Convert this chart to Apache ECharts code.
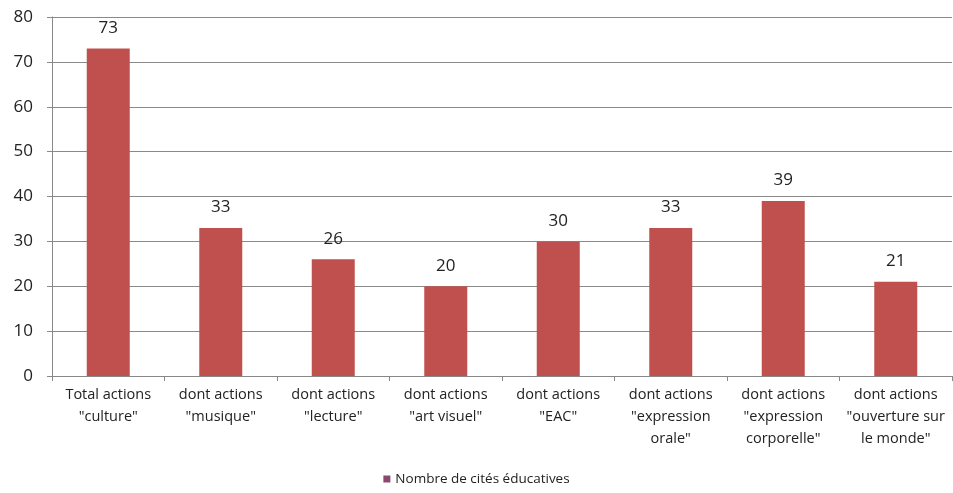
<!DOCTYPE html>
<html>
<head>
<meta charset="utf-8">
<script src="https://cdn.jsdelivr.net/npm/echarts@6/dist/echarts.min.js"></script>
<style>
  html, body { margin: 0; padding: 0; background: #fff; }
  #chart { width: 953px; height: 493px; }
</style>
</head>
<body>
<div id="chart"></div>
<script>
const categories = [
  'Total actions\n"culture"',
  'dont actions\n"musique"',
  'dont actions\n"lecture"',
  'dont actions\n"art visuel"',
  'dont actions\n"EAC"',
  'dont actions\n"expression\norale"',
  'dont actions\n"expression\ncorporelle"',
  'dont actions\n"ouverture sur\nle monde"'
];
const values = [73, 33, 26, 20, 30, 33, 39, 21];
const seriesName = 'Nombre de cités éducatives';

const chart = echarts.init(document.getElementById('chart'));

chart.setOption({
  backgroundColor: '#fff',
  textStyle: { fontFamily: 'Open Sans' },
  grid: { left: 52, right: 1, top: 17, bottom: 117 },
  legend: {
    bottom: 2,
    left: 'center',
    itemWidth: 7,
    itemHeight: 7,
    icon: 'rect',
    textStyle: { fontSize: 13.5, color: '#222' },
    data: [{ name: seriesName, itemStyle: { color: '#8a4a6e' } }]
  },
  xAxis: {
    type: 'category',
    data: categories,
    axisLine: { lineStyle: { color: '#888' } },
    axisTick: { show: true, length: 5, lineStyle: { color: '#888' } },
    axisLabel: { color: '#222', fontSize: 14.5, lineHeight: 22, margin: 8, interval: 0 }
  },
  yAxis: {
    type: 'value',
    min: 0,
    max: 80,
    interval: 10,
    axisLine: { show: true, lineStyle: { color: '#888' } },
    axisTick: { show: true, length: 5, lineStyle: { color: '#888' } },
    axisLabel: { color: '#222', fontSize: 17, margin: 19 },
    splitLine: { lineStyle: { color: '#8a8a8a' } }
  },
  series: [{
    name: seriesName,
    type: 'bar',
    data: values,
    barWidth: 43,
    itemStyle: { color: '#c0504d' },
    label: {
      show: true,
      position: 'top',
      distance: 12,
      fontSize: 17,
      color: '#222'
    }
  }]
});
</script>
</body>
</html>
